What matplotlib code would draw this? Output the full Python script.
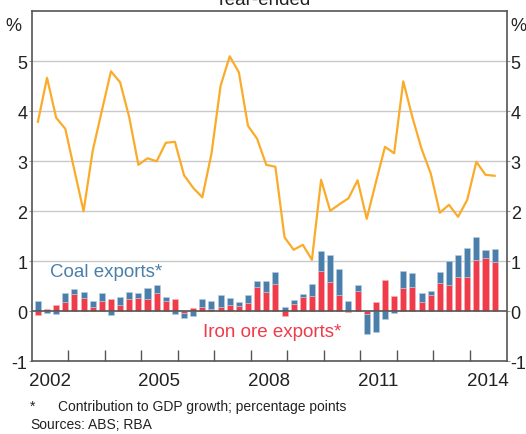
import numpy as np
import matplotlib
matplotlib.use("Agg")
import matplotlib.pyplot as plt

plt.rcParams['font.family'] = ['Liberation Sans', 'DejaVu Sans']

# Quarterly data, 2002 Q1 to 2014 Q3
start_year = 2002
gdp_growth = [3.79, 4.67, 3.87, 3.65, 2.82, 2.00, 3.21, 4.01, 4.80, 4.58,
              3.88, 2.93, 3.06, 3.00, 3.37, 3.39, 2.72, 2.47, 2.28, 3.15,
              4.51, 5.10, 4.78, 3.71, 3.45, 2.93, 2.89, 1.48, 1.23, 1.33,
              1.03, 2.63, 2.01, 2.14, 2.26, 2.62, 1.85, 2.58, 3.29, 3.16,
              4.60, 3.88, 3.25, 2.76, 1.97, 2.13, 1.89, 2.23, 2.99, 2.73,
              2.71]
iron_ore = [-0.07, 0.04, 0.13, 0.18, 0.34, 0.26, 0.09, 0.21, 0.24, 0.13,
            0.25, 0.27, 0.25, 0.37, 0.20, 0.25, -0.04, 0.07, 0.09, 0.05,
            0.09, 0.13, 0.11, 0.17, 0.49, 0.38, 0.55, -0.09, 0.15, 0.28,
            0.30, 0.81, 0.59, 0.33, -0.01, 0.40, -0.05, 0.18, 0.63, 0.30,
            0.46, 0.48, 0.18, 0.33, 0.56, 0.53, 0.69, 0.69, 1.03, 1.07,
            0.99]
coal = [0.20, -0.04, -0.05, 0.19, 0.11, 0.13, 0.12, 0.16, -0.07, 0.16,
        0.13, 0.09, 0.21, 0.16, 0.08, -0.05, -0.09, -0.09, 0.15, 0.16,
        0.23, 0.13, 0.08, 0.16, 0.11, 0.23, 0.23, 0.08, 0.07, 0.07,
        0.25, 0.40, 0.54, 0.52, 0.20, 0.13, -0.40, -0.42, -0.15, -0.03,
        0.35, 0.29, 0.19, 0.08, 0.23, 0.48, 0.44, 0.58, 0.45, 0.16,
        0.26]
year_labels = [2002, 2005, 2008, 2011, 2014]

BLUE = '#4a7fab'
RED = '#ef3b4a'
ORANGE = '#fbab2a'
AXIS = '#555555'
TXT = '#222222'

x = start_year + (np.arange(len(gdp_growth)) + 0.7) / 4
iron = np.array(iron_ore)
cl = np.array(coal)

# stack positives upward and negatives downward
coal_bottom = np.where(np.sign(cl) == np.sign(iron), iron, 0.0)

fig = plt.figure(figsize=(5.26, 4.35), dpi=100)
ax = fig.add_axes([31.5 / 526, 1 - 362.3 / 435, 475 / 526, 350 / 435])

ax.bar(x, iron, width=0.165, color=RED, edgecolor='#f7b7bd', linewidth=0.4, zorder=2)
ax.bar(x, cl, bottom=coal_bottom, width=0.165, color=BLUE,
       edgecolor='#b9cde0', linewidth=0.4, zorder=2)
ax.plot(x, gdp_growth, color=ORANGE, linewidth=1.6, zorder=3)
ax.axhline(0, color=AXIS, linewidth=1.2, zorder=4)

ax.set_xlim(2002, 2015)
ax.set_ylim(-1, 6)
for v in range(1, 6):
    ax.axhline(v, color='#c9c9c9', linewidth=1.0, zorder=1)

ax.set_yticks(range(-1, 6))
ax.set_yticklabels([str(v) for v in range(-1, 6)])
ax.tick_params(axis='y', which='both', direction='out', length=2, width=0.8,
               color='#999999', labelsize=13, labelcolor=TXT,
               left=True, right=True, labelleft=True, labelright=True, pad=1)

ax.set_xticks(range(2003, 2015))
ax.set_xticklabels([])
ax.tick_params(axis='x', direction='in', length=8, width=1.0, color=AXIS)
for yr in year_labels:
    ax.text(yr + 0.5, -1.38, str(yr), ha='center', va='center', fontsize=13.5,
            color=TXT)

for s in ax.spines.values():
    s.set_color(AXIS)
    s.set_linewidth(1.2)

ax.text(-0.038, 0.985, '%', transform=ax.transAxes, ha='center', va='top',
        fontsize=13, color=TXT)
ax.text(1.024, 0.985, '%', transform=ax.transAxes, ha='center', va='top',
        fontsize=13, color=TXT)

ax.text(2002.5, 0.79, 'Coal exports*', color=BLUE, fontsize=13.5, ha='left', va='center')
ax.text(2008.58, -0.41, 'Iron ore exports*', color=RED, fontsize=13.5,
        ha='center', va='center')

fig.text(0.5, 1 - 5 / 435, 'Year-ended', ha='center', va='baseline', fontsize=13.5,
         color=TXT)
fig.text(30 / 526, 1 - 407 / 435, '*', ha='left', va='center', fontsize=10, color=TXT)
fig.text(58 / 526, 1 - 407 / 435, 'Contribution to GDP growth; percentage points',
         ha='left', va='center', fontsize=10, color=TXT)
fig.text(30 / 526, 1 - 425 / 435, 'Sources:', ha='left', va='center', fontsize=10,
         color=TXT)
fig.text(88 / 526, 1 - 425 / 435, 'ABS; RBA', ha='left', va='center', fontsize=10,
         color=TXT)

fig.savefig('out.png', dpi=100)
